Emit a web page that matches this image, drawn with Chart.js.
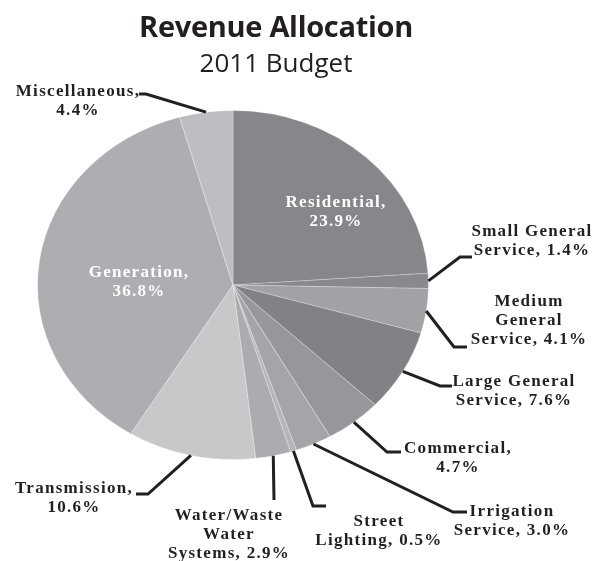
<!DOCTYPE html>
<html>
<head>
<meta charset="utf-8">
<script src="https://cdn.jsdelivr.net/npm/chart.js@4"></script>
<style>
  html, body { margin: 0; padding: 0; background: #fff; }
  canvas { display: block; }
</style>
</head>
<body>
<canvas id="revChart" width="607" height="561"></canvas>
<script>
"use strict";

const categories = ['Residential', 'Small General Service', 'Medium General Service',
    'Large General Service', 'Commercial', 'Irrigation Service', 'Street Lighting',
    'Water/Waste Water Systems', 'Transmission', 'Generation', 'Miscellaneous'];
const shares = [23.9, 1.4, 4.1, 7.6, 4.7, 3.0, 0.5, 2.9, 10.6, 36.8, 4.4];
const sliceColors = ['#86878b', '#88898d', '#a1a2a6', '#818286', '#96979b', '#a4a5a9',
    '#b4b5b9', '#abacb0', '#c7c8ca', '#adaeb2', '#bdbec2'];

// label placement: words per line, text centre, first line y, leader elbow/end
const labelSpots = [
    {words: [1, 1], x: 336, y: 203, inside: true},
    {words: [2, 2], x: 532, y: 232, elbow: [460, 257], end: [472, 257]},
    {words: [1, 1, 2], x: 529, y: 302, elbow: [454, 347], end: [467, 347]},
    {words: [2, 2], x: 514, y: 382, elbow: [440, 386], end: [452, 386]},
    {words: [1, 1], x: 458, y: 449, elbow: [387, 452], end: [401, 452]},
    {words: [1, 2], x: 512, y: 512, elbow: [453, 512], end: [467, 512]},
    {words: [1, 2], x: 379, y: 522, elbow: [313, 506], end: [326, 506]},
    {words: [1, 1, 2], x: 229, y: 516, elbow: [274, 500], end: [274, 500]},
    {words: [1, 1], x: 74, y: 489, elbow: [148, 494], end: [136, 494]},
    {words: [1, 1], x: 139, y: 273, inside: true},
    {words: [1, 1], x: 78, y: 92, elbow: [146, 94], end: [139, 94]}
];

const stretchX = 196 / 175;
const ink = '#231f20';

function labelLines(i) {
    const parts = (categories[i] + ', ' + shares[i].toFixed(1) + '%').split(' ');
    const lines = [];
    let k = 0;
    labelSpots[i].words.forEach(function (n) {
        lines.push(parts.slice(k, k + n).join(' '));
        k += n;
    });
    return lines;
}

// stretch the pie sideways, the original is a bit oval
const ovalPie = {
    id: 'ovalPie',
    beforeDatasetsDraw(chart) {
        const arc = chart.getDatasetMeta(0).data[0];
        const ctx = chart.ctx;
        ctx.save();
        ctx.translate(arc.x, arc.y);
        ctx.scale(stretchX, 1);
        ctx.translate(-arc.x, -arc.y);
    },
    afterDatasetsDraw(chart) {
        chart.ctx.restore();
    }
};

const pieLabels = {
    id: 'pieLabels',
    afterDraw(chart) {
        const ctx = chart.ctx;
        const arcs = chart.getDatasetMeta(0).data;

        // titles
        ctx.save();
        ctx.fillStyle = ink;
        ctx.textAlign = 'center';
        ctx.textBaseline = 'alphabetic';
        ctx.font = 'bold 29px "Open Sans"';
        ctx.letterSpacing = '-0.3px';
        ctx.fillText('Revenue Allocation', 276, 37);
        ctx.font = '26px "Open Sans"';
        ctx.letterSpacing = '0px';
        ctx.fillText('2011 Budget', 276, 72);
        ctx.restore();

        for (let i = 0; i < arcs.length; i++) {
            const a = arcs[i];
            const spot = labelSpots[i];
            const mid = (a.startAngle + a.endAngle) / 2;

            if (!spot.inside) {
                const px = a.x + Math.cos(mid) * a.outerRadius * stretchX;
                const py = a.y + Math.sin(mid) * a.outerRadius;
                ctx.save();
                ctx.strokeStyle = ink;
                ctx.lineWidth = 3;
                ctx.beginPath();
                ctx.moveTo(px, py);
                ctx.lineTo(spot.elbow[0], spot.elbow[1]);
                ctx.lineTo(spot.end[0], spot.end[1]);
                ctx.stroke();
                ctx.restore();
            }

            ctx.save();
            ctx.fillStyle = spot.inside ? '#ffffff' : ink;
            ctx.font = 'bold 17px "Liberation Serif"';
            ctx.letterSpacing = '1.3px';
            ctx.textAlign = 'center';
            ctx.textBaseline = 'middle';
            labelLines(i).forEach(function (line, j) {
                ctx.fillText(line, spot.x, spot.y + j * 19);
            });
            ctx.restore();
        }
    }
};

new Chart(document.getElementById('revChart'), {
    type: 'pie',
    data: {
        labels: categories,
        datasets: [{
            data: shares,
            backgroundColor: sliceColors,
            borderColor: 'rgba(255,255,255,0.25)',
            borderWidth: 1
        }]
    },
    options: {
        responsive: false,
        animation: false,
        layout: {padding: {top: 110, bottom: 101, left: 58, right: 199}},
        plugins: {
            legend: {display: false},
            tooltip: {enabled: false},
            title: {display: false}
        }
    },
    plugins: [ovalPie, pieLabels]
});
</script>
</body>
</html>
